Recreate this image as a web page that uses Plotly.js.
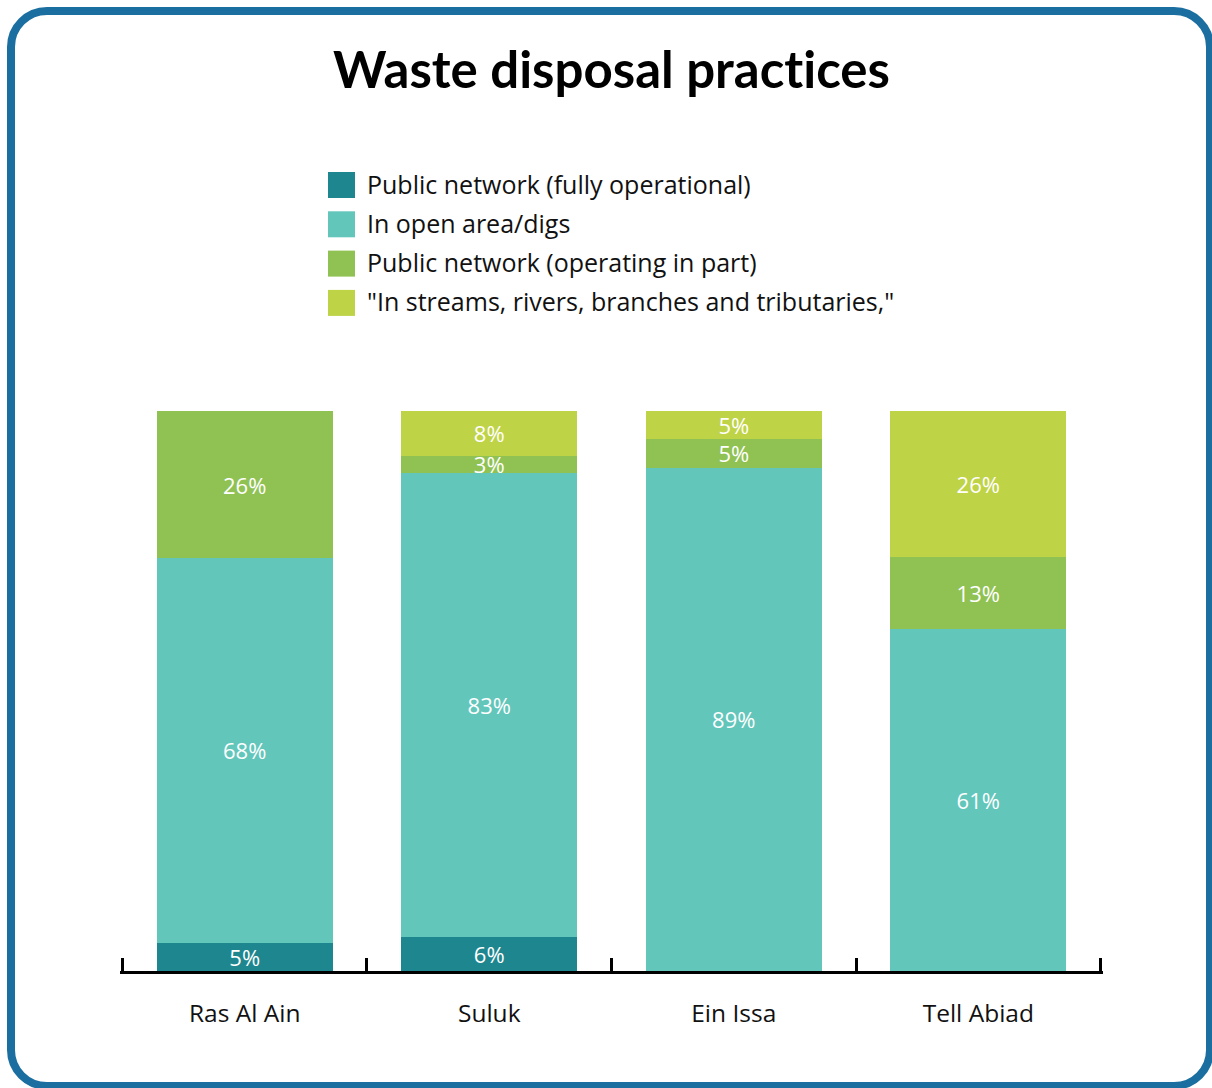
<!DOCTYPE html>
<html><head><meta charset="utf-8">
<script src="https://cdn.plot.ly/plotly-3.0.1.min.js"></script>
<style>
html,body{margin:0;padding:0;width:1212px;height:1088px;overflow:hidden;background:#fff;}
#frame{position:absolute;left:7px;top:7px;width:1207px;height:1083px;box-sizing:border-box;border:8px solid #1b6fa0;border-radius:40px;}
#chart{position:absolute;left:0;top:0;width:1212px;height:1088px;}
svg text, svg tspan{font-variant-ligatures:none !important;font-feature-settings:"liga" 0,"clig" 0,"dlig" 0 !important;}
</style></head><body>
<div id="frame"></div><div id="chart"></div>
<script>
const categories = ['Ras Al Ain', 'Suluk', 'Ein Issa', 'Tell Abiad'];
const seriesNames = ['Public network (fully operational)', 'In open area/digs', 'Public network (operating in part)', '"In streams, rivers, branches and tributaries,"'];
const fullyOperational = [5, 6, 0, 0];
const openArea = [68, 83, 89, 61];
const operatingInPart = [26, 3, 5, 13];
const streams = [0, 8, 5, 26];
const seriesColors = ['#1e868e', '#62c6bb', '#8fc253', '#bfd346'];
const chartTitle = 'Waste disposal practices';

const F = '"Open Sans", "Noto Sans", sans-serif';
const FT = 'Lato, "Open Sans", sans-serif';
const seriesValues = [fullyOperational, openArea, operatingInPart, streams];

const traces = seriesValues.map((vals, i) => ({
  type: 'bar', x: categories, y: vals, name: seriesNames[i],
  marker: {color: seriesColors[i], line: {width: 0}},
  text: vals.map(v => v > 0 ? v + '%' : ''),
  textposition: 'inside', insidetextanchor: 'middle', textangle: 0,
  textfont: {color: '#ffffff', size: 22, family: F},
  hoverinfo: 'none', showlegend: false
}));

// plot area in pixels: x 120..1103, y 411..971
const PX0 = 120, PX1 = 1103, PY0 = 411, PY1 = 971;
const toPx = px => (px - PX0) / (PX1 - PX0);
const toPy = py => (PY1 - py) / (PY1 - PY0);

const shapes = [], annotations = [];
seriesNames.forEach((nm, i) => {
  const cy = 185 + i * 39.3;
  shapes.push({type: 'rect', xref: 'paper', yref: 'paper', xsizemode: 'pixel', ysizemode: 'pixel',
    xanchor: toPx(341.5), yanchor: toPy(cy), x0: -13.5, x1: 13.5, y0: -13, y1: 13,
    fillcolor: seriesColors[i], line: {width: 0}});
  annotations.push({xref: 'paper', yref: 'paper', x: toPx(365), y: toPy(cy - 1.5), xanchor: 'left', yanchor: 'middle',
    text: nm, showarrow: false, font: {family: F, size: 25, color: '#111'}});
});

const layout = {
  width: 1212, height: 1088,
  paper_bgcolor: 'rgba(0,0,0,0)', plot_bgcolor: 'rgba(0,0,0,0)',
  margin: {l: PX0, r: 1212 - PX1, t: PY0, b: 1088 - PY1, pad: 0},
  title: {text: '<b>' + chartTitle + '</b>', font: {family: FT, size: 51, color: '#000'},
    xref: 'paper', x: 0.5, xanchor: 'center', yref: 'container', y: 1 - 70 / 1088, yanchor: 'middle'},
  barmode: 'stack', barnorm: 'percent', bargap: 0.28,
  uniformtext: {mode: 'show', minsize: 22},
  showlegend: false,
  xaxis: {type: 'category', range: [-0.51, 3.51], tickson: 'boundaries', ticks: 'inside', ticklen: 13, tickwidth: 3, tickcolor: '#000',
    showline: true, linewidth: 3, linecolor: '#000', showgrid: false, zeroline: false,
    tickfont: {family: F, size: 24.5, color: '#111'}, ticklabelstandoff: 19, fixedrange: true},
  yaxis: {visible: false, range: [0, 100], fixedrange: true, showgrid: false, zeroline: false},
  shapes: shapes, annotations: annotations
};

Plotly.newPlot('chart', traces, layout, {displayModeBar: false, staticPlot: true});
</script>
</body></html>
